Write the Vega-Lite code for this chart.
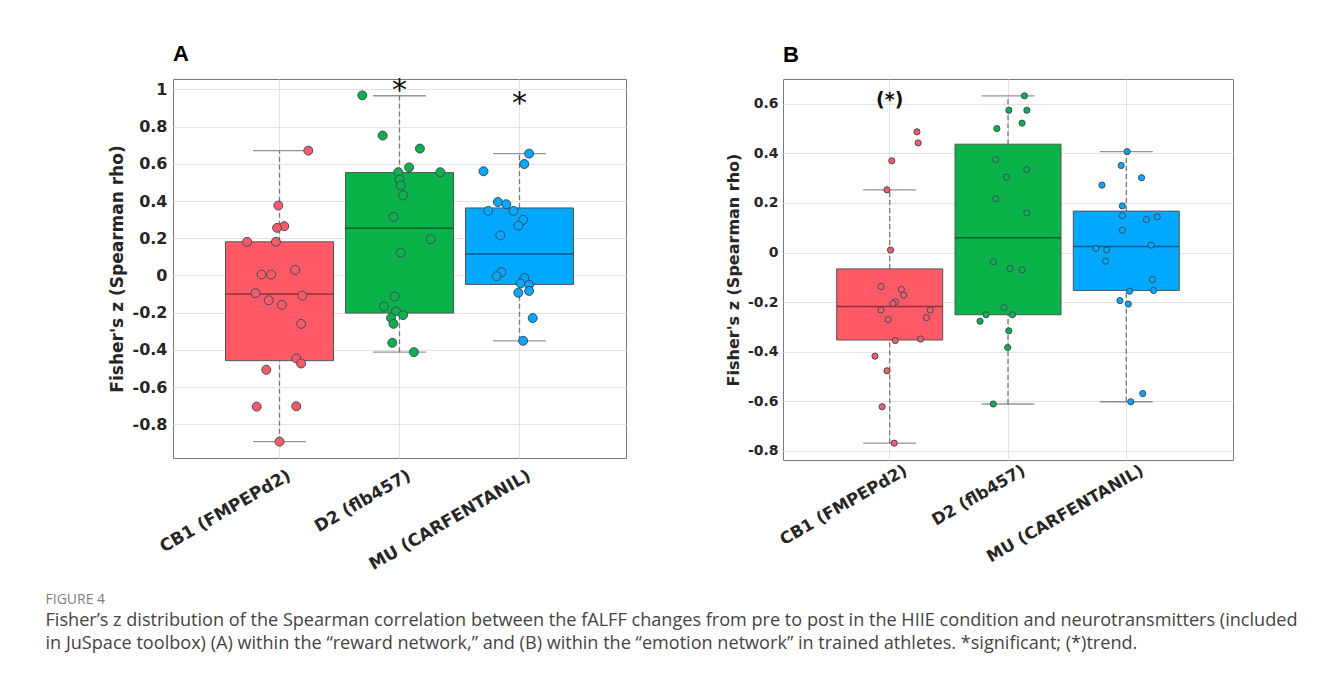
{
  "$schema": "https://vega.github.io/schema/vega-lite/v6.json",
  "background": "white",
  "padding": {"left": 45, "top": 42, "right": 5, "bottom": 10},
  "spacing": 97,
  "config": {
    "font": "DejaVu Sans",
    "view": {"stroke": "#7a7a7a", "strokeWidth": 1},
    "axis": {
      "gridColor": "#e4e4e4",
      "gridWidth": 1,
      "domain": false,
      "ticks": false,
      "labelColor": "#262626",
      "titleColor": "#262626",
      "labelFontWeight": "bold",
      "titleFontWeight": "bold",
      "labelFont": "DejaVu Sans",
      "titleFont": "DejaVu Sans",
      "labelLimit": 400
    }
  },
  "title": {
    "text": "FIGURE 4",
    "subtitle": [
      "Fisher’s z distribution of the Spearman correlation between the fALFF changes from pre to post in the HIIE condition and neurotransmitters (included",
      "in JuSpace toolbox) (A) within the “reward network,” and (B) within the “emotion network” in trained athletes. *significant; (*)trend."
    ],
    "orient": "bottom",
    "anchor": "start",
    "frame": "bounds",
    "dx": -62,
    "offset": 20,
    "font": "Open Sans",
    "fontSize": 14,
    "fontWeight": "normal",
    "color": "#808080",
    "subtitleFont": "Open Sans",
    "subtitleFontSize": 18.1,
    "subtitleColor": "#444444",
    "subtitleLineHeight": 23,
    "subtitlePadding": 5
  },
  "datasets": {
    "boxA": [
      {"g": "CB1 (FMPEPd2)", "lower": -0.893, "q1": -0.458, "med": -0.100, "q3": 0.181, "upper": 0.671},
      {"g": "D2 (flb457)", "lower": -0.412, "q1": -0.202, "med": 0.254, "q3": 0.553, "upper": 0.966},
      {"g": "MU (CARFENTANIL)", "lower": -0.351, "q1": -0.048, "med": 0.116, "q3": 0.363, "upper": 0.655}
    ],
    "boxB": [
      {"g": "CB1 (FMPEPd2)", "lower": -0.769, "q1": -0.353, "med": -0.218, "q3": -0.066, "upper": 0.253},
      {"g": "D2 (flb457)", "lower": -0.611, "q1": -0.251, "med": 0.06, "q3": 0.437, "upper": 0.632},
      {"g": "MU (CARFENTANIL)", "lower": -0.602, "q1": -0.153, "med": 0.024, "q3": 0.167, "upper": 0.407}
    ],
    "ptsA": [
      {"g": "CB1 (FMPEPd2)", "j": 0.24, "z": 0.671},
      {"g": "CB1 (FMPEPd2)", "j": -0.01, "z": 0.376},
      {"g": "CB1 (FMPEPd2)", "j": 0.04, "z": 0.265},
      {"g": "CB1 (FMPEPd2)", "j": -0.02, "z": 0.256},
      {"g": "CB1 (FMPEPd2)", "j": -0.27, "z": 0.181},
      {"g": "CB1 (FMPEPd2)", "j": -0.03, "z": 0.181},
      {"g": "CB1 (FMPEPd2)", "j": -0.15, "z": 0.005},
      {"g": "CB1 (FMPEPd2)", "j": -0.07, "z": 0.005},
      {"g": "CB1 (FMPEPd2)", "j": 0.13, "z": 0.03},
      {"g": "CB1 (FMPEPd2)", "j": -0.2, "z": -0.095},
      {"g": "CB1 (FMPEPd2)", "j": -0.09, "z": -0.133},
      {"g": "CB1 (FMPEPd2)", "j": 0.19, "z": -0.108},
      {"g": "CB1 (FMPEPd2)", "j": 0.02, "z": -0.158},
      {"g": "CB1 (FMPEPd2)", "j": 0.18, "z": -0.26},
      {"g": "CB1 (FMPEPd2)", "j": 0.14, "z": -0.446},
      {"g": "CB1 (FMPEPd2)", "j": 0.18, "z": -0.473},
      {"g": "CB1 (FMPEPd2)", "j": -0.11, "z": -0.507},
      {"g": "CB1 (FMPEPd2)", "j": -0.19, "z": -0.705},
      {"g": "CB1 (FMPEPd2)", "j": 0.14, "z": -0.703},
      {"g": "CB1 (FMPEPd2)", "j": 0.0, "z": -0.893},
      {"g": "D2 (flb457)", "j": -0.31, "z": 0.968},
      {"g": "D2 (flb457)", "j": -0.14, "z": 0.752},
      {"g": "D2 (flb457)", "j": 0.17, "z": 0.682},
      {"g": "D2 (flb457)", "j": 0.08, "z": 0.581},
      {"g": "D2 (flb457)", "j": -0.01, "z": 0.555},
      {"g": "D2 (flb457)", "j": 0.34, "z": 0.555},
      {"g": "D2 (flb457)", "j": 0.0, "z": 0.515},
      {"g": "D2 (flb457)", "j": 0.01, "z": 0.483},
      {"g": "D2 (flb457)", "j": 0.03, "z": 0.431},
      {"g": "D2 (flb457)", "j": -0.05, "z": 0.315},
      {"g": "D2 (flb457)", "j": 0.26, "z": 0.195},
      {"g": "D2 (flb457)", "j": 0.01, "z": 0.123},
      {"g": "D2 (flb457)", "j": -0.04, "z": -0.113},
      {"g": "D2 (flb457)", "j": -0.13, "z": -0.166},
      {"g": "D2 (flb457)", "j": -0.03, "z": -0.192},
      {"g": "D2 (flb457)", "j": 0.03, "z": -0.213},
      {"g": "D2 (flb457)", "j": -0.07, "z": -0.228},
      {"g": "D2 (flb457)", "j": -0.05, "z": -0.26},
      {"g": "D2 (flb457)", "j": -0.06, "z": -0.362},
      {"g": "D2 (flb457)", "j": 0.12, "z": -0.412},
      {"g": "MU (CARFENTANIL)", "j": 0.08, "z": 0.655},
      {"g": "MU (CARFENTANIL)", "j": 0.04, "z": 0.599},
      {"g": "MU (CARFENTANIL)", "j": -0.3, "z": 0.56},
      {"g": "MU (CARFENTANIL)", "j": -0.18, "z": 0.395},
      {"g": "MU (CARFENTANIL)", "j": -0.11, "z": 0.383},
      {"g": "MU (CARFENTANIL)", "j": -0.26, "z": 0.347},
      {"g": "MU (CARFENTANIL)", "j": -0.05, "z": 0.347},
      {"g": "MU (CARFENTANIL)", "j": 0.03, "z": 0.299},
      {"g": "MU (CARFENTANIL)", "j": -0.01, "z": 0.268},
      {"g": "MU (CARFENTANIL)", "j": -0.16, "z": 0.216},
      {"g": "MU (CARFENTANIL)", "j": -0.15, "z": 0.018},
      {"g": "MU (CARFENTANIL)", "j": -0.19, "z": -0.004},
      {"g": "MU (CARFENTANIL)", "j": 0.04, "z": -0.013},
      {"g": "MU (CARFENTANIL)", "j": 0.01, "z": -0.043},
      {"g": "MU (CARFENTANIL)", "j": 0.08, "z": -0.05},
      {"g": "MU (CARFENTANIL)", "j": 0.08, "z": -0.083},
      {"g": "MU (CARFENTANIL)", "j": -0.01, "z": -0.093},
      {"g": "MU (CARFENTANIL)", "j": 0.11, "z": -0.229},
      {"g": "MU (CARFENTANIL)", "j": 0.03, "z": -0.351}
    ],
    "ptsB": [
      {"g": "CB1 (FMPEPd2)", "j": 0.22, "z": 0.487},
      {"g": "CB1 (FMPEPd2)", "j": 0.23, "z": 0.442},
      {"g": "CB1 (FMPEPd2)", "j": 0.01, "z": 0.37},
      {"g": "CB1 (FMPEPd2)", "j": -0.03, "z": 0.253},
      {"g": "CB1 (FMPEPd2)", "j": 0.0, "z": 0.01},
      {"g": "CB1 (FMPEPd2)", "j": -0.08, "z": -0.137},
      {"g": "CB1 (FMPEPd2)", "j": 0.09, "z": -0.149},
      {"g": "CB1 (FMPEPd2)", "j": 0.11, "z": -0.172},
      {"g": "CB1 (FMPEPd2)", "j": 0.04, "z": -0.199},
      {"g": "CB1 (FMPEPd2)", "j": 0.02, "z": -0.206},
      {"g": "CB1 (FMPEPd2)", "j": -0.08, "z": -0.232},
      {"g": "CB1 (FMPEPd2)", "j": 0.33, "z": -0.232},
      {"g": "CB1 (FMPEPd2)", "j": -0.02, "z": -0.27},
      {"g": "CB1 (FMPEPd2)", "j": 0.3, "z": -0.263},
      {"g": "CB1 (FMPEPd2)", "j": 0.04, "z": -0.355},
      {"g": "CB1 (FMPEPd2)", "j": 0.25, "z": -0.349},
      {"g": "CB1 (FMPEPd2)", "j": -0.13, "z": -0.418},
      {"g": "CB1 (FMPEPd2)", "j": -0.03, "z": -0.477},
      {"g": "CB1 (FMPEPd2)", "j": -0.07, "z": -0.622},
      {"g": "CB1 (FMPEPd2)", "j": 0.03, "z": -0.769},
      {"g": "D2 (flb457)", "j": 0.13, "z": 0.632},
      {"g": "D2 (flb457)", "j": 0.0, "z": 0.574},
      {"g": "D2 (flb457)", "j": 0.15, "z": 0.574},
      {"g": "D2 (flb457)", "j": 0.11, "z": 0.522},
      {"g": "D2 (flb457)", "j": -0.1, "z": 0.5},
      {"g": "D2 (flb457)", "j": -0.11, "z": 0.375},
      {"g": "D2 (flb457)", "j": 0.15, "z": 0.335},
      {"g": "D2 (flb457)", "j": -0.02, "z": 0.304},
      {"g": "D2 (flb457)", "j": -0.11, "z": 0.217},
      {"g": "D2 (flb457)", "j": 0.15, "z": 0.16},
      {"g": "D2 (flb457)", "j": -0.13, "z": -0.037},
      {"g": "D2 (flb457)", "j": 0.01, "z": -0.065},
      {"g": "D2 (flb457)", "j": 0.11, "z": -0.07},
      {"g": "D2 (flb457)", "j": -0.04, "z": -0.222},
      {"g": "D2 (flb457)", "j": -0.19, "z": -0.251},
      {"g": "D2 (flb457)", "j": 0.03, "z": -0.251},
      {"g": "D2 (flb457)", "j": -0.24, "z": -0.277},
      {"g": "D2 (flb457)", "j": 0.0, "z": -0.316},
      {"g": "D2 (flb457)", "j": -0.01, "z": -0.383},
      {"g": "D2 (flb457)", "j": -0.13, "z": -0.611},
      {"g": "MU (CARFENTANIL)", "j": 0.0, "z": 0.407},
      {"g": "MU (CARFENTANIL)", "j": -0.05, "z": 0.351},
      {"g": "MU (CARFENTANIL)", "j": 0.12, "z": 0.302},
      {"g": "MU (CARFENTANIL)", "j": -0.21, "z": 0.272},
      {"g": "MU (CARFENTANIL)", "j": -0.04, "z": 0.188},
      {"g": "MU (CARFENTANIL)", "j": -0.04, "z": 0.149},
      {"g": "MU (CARFENTANIL)", "j": 0.16, "z": 0.133},
      {"g": "MU (CARFENTANIL)", "j": 0.25, "z": 0.144},
      {"g": "MU (CARFENTANIL)", "j": -0.04, "z": 0.09},
      {"g": "MU (CARFENTANIL)", "j": 0.2, "z": 0.03},
      {"g": "MU (CARFENTANIL)", "j": -0.26, "z": 0.016},
      {"g": "MU (CARFENTANIL)", "j": -0.17, "z": 0.01},
      {"g": "MU (CARFENTANIL)", "j": -0.18, "z": -0.035},
      {"g": "MU (CARFENTANIL)", "j": 0.21, "z": -0.109},
      {"g": "MU (CARFENTANIL)", "j": 0.22, "z": -0.153},
      {"g": "MU (CARFENTANIL)", "j": 0.02, "z": -0.156},
      {"g": "MU (CARFENTANIL)", "j": -0.06, "z": -0.194},
      {"g": "MU (CARFENTANIL)", "j": 0.01, "z": -0.208},
      {"g": "MU (CARFENTANIL)", "j": 0.13, "z": -0.569},
      {"g": "MU (CARFENTANIL)", "j": 0.03, "z": -0.602}
    ],
    "starA": [
      {"g": "D2 (flb457)", "z": 0.944, "t": "*"},
      {"g": "MU (CARFENTANIL)", "z": 0.872, "t": "*"}
    ],
    "starB": [
      {"g": "CB1 (FMPEPd2)", "z": 0.59, "t": "(*)"}
    ]
  },
  "hconcat": [
    {
      "width": 453,
      "height": 379,
      "title": {"text": "A", "anchor": "start", "frame": "group", "font": "Liberation Sans", "fontSize": 22, "fontWeight": "bold", "color": "#000000", "offset": 9.5},
      "encoding": {
        "x": {
          "field": "g", "type": "nominal",
          "scale": {"domain": ["CB1 (FMPEPd2)", "D2 (flb457)", "MU (CARFENTANIL)"], "paddingInner": 0, "paddingOuter": 0.3875},
          "axis": {"title": null, "labelAngle": -30, "labelAlign": "right", "labelBaseline": "top", "labelFontSize": 17, "bandPosition": 0.5, "grid": true, "labelPadding": 9, "labelOffset": 6}
        }
      },
      "layer": [
        {
          "data": {"name": "boxA"},
          "mark": {"type": "rule", "strokeDash": [5, 3], "color": "#777777", "strokeWidth": 1.3},
          "encoding": {
            "y": {"field": "q3", "type": "quantitative",
              "scale": {"domain": [-0.981, 1.056], "nice": false, "zero": false},
              "axis": {"title": "Fisher's z (Spearman rho)", "titleFontSize": 17, "labelFontSize": 16, "values": [-0.8, -0.6, -0.4, -0.2, 0, 0.2, 0.4, 0.6, 0.8, 1], "labelExpr": "'' + round(datum.value*10)/10", "grid": true, "labelPadding": 6, "titlePadding": 6}},
            "y2": {"field": "upper"}
          }
        },
        {
          "data": {"name": "boxA"},
          "mark": {"type": "rule", "strokeDash": [5, 3], "color": "#777777", "strokeWidth": 1.3},
          "encoding": {"y": {"field": "lower", "type": "quantitative"}, "y2": {"field": "q1"}}
        },
        {
          "data": {"name": "boxA"},
          "mark": {"type": "tick", "size": 53, "thickness": 1.3, "color": "#666666"},
          "encoding": {"y": {"field": "upper", "type": "quantitative"}}
        },
        {
          "data": {"name": "boxA"},
          "mark": {"type": "tick", "size": 53, "thickness": 1.3, "color": "#666666"},
          "encoding": {"y": {"field": "lower", "type": "quantitative"}}
        },
        {
          "data": {"name": "boxA"},
          "mark": {"type": "bar", "size": 108, "stroke": "#555555", "strokeWidth": 1},
          "encoding": {
            "y": {"field": "q1", "type": "quantitative"}, "y2": {"field": "q3"},
            "color": {"field": "g", "type": "nominal", "legend": null, "scale": {"domain": ["CB1 (FMPEPd2)", "D2 (flb457)", "MU (CARFENTANIL)"], "range": ["#FF5A66", "#0AB24A", "#00A8FF"]}}
          }
        },
        {
          "data": {"name": "boxA"},
          "mark": {"type": "tick", "size": 108, "thickness": 1.5, "color": "#000000", "opacity": 0.45},
          "encoding": {"y": {"field": "med", "type": "quantitative"}}
        },
        {
          "data": {"name": "ptsA"},
          "mark": {"type": "point", "filled": true, "size": 80, "stroke": "#3e4b5e", "strokeWidth": 1, "opacity": 1},
          "encoding": {
            "xOffset": {"field": "j", "type": "quantitative", "scale": {"domain": [-0.5, 0.5], "range": [0, 120]}},
            "y": {"field": "z", "type": "quantitative"},
            "color": {"field": "g", "type": "nominal", "legend": null, "scale": {"domain": ["CB1 (FMPEPd2)", "D2 (flb457)", "MU (CARFENTANIL)"], "range": ["#FF5A66", "#0AB24A", "#00A8FF"]}}
          }
        },
        {
          "data": {"name": "starA"},
          "mark": {"type": "text", "fontSize": 30, "font": "DejaVu Sans", "baseline": "alphabetic", "color": "#111111"},
          "encoding": {"y": {"field": "z", "type": "quantitative"}, "text": {"field": "t"}}
        }
      ]
    },
    {
      "width": 450,
      "height": 381,
      "title": {"text": "B", "anchor": "start", "frame": "group", "font": "Liberation Sans", "fontSize": 22, "fontWeight": "bold", "color": "#000000", "offset": 12},
      "encoding": {
        "x": {
          "field": "g", "type": "nominal",
          "scale": {"domain": ["CB1 (FMPEPd2)", "D2 (flb457)", "MU (CARFENTANIL)"], "paddingInner": 0, "paddingOuter": 0.402},
          "axis": {"title": null, "labelAngle": -30, "labelAlign": "right", "labelBaseline": "top", "labelFontSize": 16.5, "bandPosition": 0.5, "grid": true, "labelPadding": 2, "labelOffset": 12}
        }
      },
      "layer": [
        {
          "data": {"name": "boxB"},
          "mark": {"type": "rule", "strokeDash": [5, 3], "color": "#777777", "strokeWidth": 1.3},
          "encoding": {
            "y": {"field": "q3", "type": "quantitative",
              "scale": {"domain": [-0.837, 0.7], "nice": false, "zero": false},
              "axis": {"title": "Fisher's z (Spearman rho)", "titleFontSize": 16, "labelFontSize": 14, "values": [-0.8, -0.6, -0.4, -0.2, 0, 0.2, 0.4, 0.6], "labelExpr": "'' + round(datum.value*10)/10", "grid": true, "labelPadding": 5, "titlePadding": 6}},
            "y2": {"field": "upper"}
          }
        },
        {
          "data": {"name": "boxB"},
          "mark": {"type": "rule", "strokeDash": [5, 3], "color": "#777777", "strokeWidth": 1.3},
          "encoding": {"y": {"field": "lower", "type": "quantitative"}, "y2": {"field": "q1"}}
        },
        {
          "data": {"name": "boxB"},
          "mark": {"type": "tick", "size": 53, "thickness": 1.3, "color": "#666666"},
          "encoding": {"y": {"field": "upper", "type": "quantitative"}}
        },
        {
          "data": {"name": "boxB"},
          "mark": {"type": "tick", "size": 53, "thickness": 1.3, "color": "#666666"},
          "encoding": {"y": {"field": "lower", "type": "quantitative"}}
        },
        {
          "data": {"name": "boxB"},
          "mark": {"type": "bar", "size": 106, "stroke": "#555555", "strokeWidth": 1},
          "encoding": {
            "y": {"field": "q1", "type": "quantitative"}, "y2": {"field": "q3"},
            "color": {"field": "g", "type": "nominal", "legend": null, "scale": {"domain": ["CB1 (FMPEPd2)", "D2 (flb457)", "MU (CARFENTANIL)"], "range": ["#FF5A66", "#0AB24A", "#00A8FF"]}}
          }
        },
        {
          "data": {"name": "boxB"},
          "mark": {"type": "tick", "size": 106, "thickness": 1.5, "color": "#000000", "opacity": 0.45},
          "encoding": {"y": {"field": "med", "type": "quantitative"}}
        },
        {
          "data": {"name": "ptsB"},
          "mark": {"type": "point", "filled": true, "size": 38, "stroke": "#3e4b5e", "strokeWidth": 1, "opacity": 1},
          "encoding": {
            "xOffset": {"field": "j", "type": "quantitative", "scale": {"domain": [-0.5, 0.5], "range": [0, 118.3]}},
            "y": {"field": "z", "type": "quantitative"},
            "color": {"field": "g", "type": "nominal", "legend": null, "scale": {"domain": ["CB1 (FMPEPd2)", "D2 (flb457)", "MU (CARFENTANIL)"], "range": ["#FF5A66", "#0AB24A", "#00A8FF"]}}
          }
        },
        {
          "data": {"name": "starB"},
          "mark": {"type": "text", "fontSize": 19, "font": "DejaVu Sans", "fontWeight": "bold", "baseline": "alphabetic", "color": "#111111"},
          "encoding": {"y": {"field": "z", "type": "quantitative"}, "text": {"field": "t"}}
        }
      ]
    }
  ]
}
